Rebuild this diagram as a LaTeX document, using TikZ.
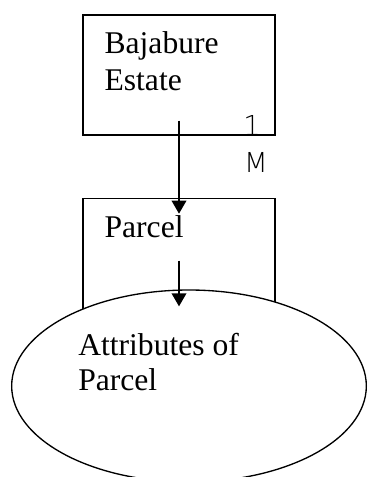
\documentclass[tikz,border=0pt]{standalone}
\usepackage{fontspec}
\setmainfont{Liberation Serif}
\newfontfamily\thinsans{DejaVu Sans ExtraLight}
\usetikzlibrary{shapes.geometric,arrows.meta,positioning}

\begin{document}
\begin{tikzpicture}[
  x=0.75pt, y=-0.75pt,
  box/.style={rectangle, draw, line width=1pt, minimum width=144pt},
  attr/.style={ellipse, draw, fill=white, line width=1pt, minimum width=266pt, minimum height=144pt, inner sep=0pt},
  txt/.style={anchor=north west, inner sep=0pt, align=left, font=\fontsize{23.7}{28}\selectfont},
  card/.style={inner sep=0pt, font=\thinsans\fontsize{20.6}{22}\selectfont},
  arrow/.style={-{Triangle[length=9.75pt,width=11pt]}, line width=1.1pt}
]
\useasboundingbox (0,0) rectangle (368,477);
% entities
\node[box, minimum height=90pt] (estate) at (179,75) {};
\node[box, minimum height=107.25pt, below=46.5pt of estate] (parcel) {};
\node[attr] (attrs) at (189,386) {};
% texts
\node[txt] (estatetxt) at ([xshift=16.5pt,yshift=-12.75pt]estate.north west) {Bajabure\\Estate};
\node[txt] (parceltxt) at ([xshift=16.5pt,yshift=-13.5pt]parcel.north west) {Parcel};
\node[txt, font=\fontsize{23.7}{26.25}\selectfont] (attrtxt) at (78,333) {Attributes of\\Parcel};
% cardinality
\node[card] (one) at (252,125) {1};
\node[card] (many) at (256,162) {M};
% links
\coordinate (a1) at ([yshift=11.25pt]estate.south);
\coordinate (a2) at ([yshift=-47.25pt]parcel.north);
\coordinate (t2) at ([yshift=-12.75pt]attrs.north);
\draw[arrow] (a1) -- ([yshift=-12pt]parcel.north);
\draw[arrow] (a2) -- (a2 |- t2);
\end{tikzpicture}
\end{document}
